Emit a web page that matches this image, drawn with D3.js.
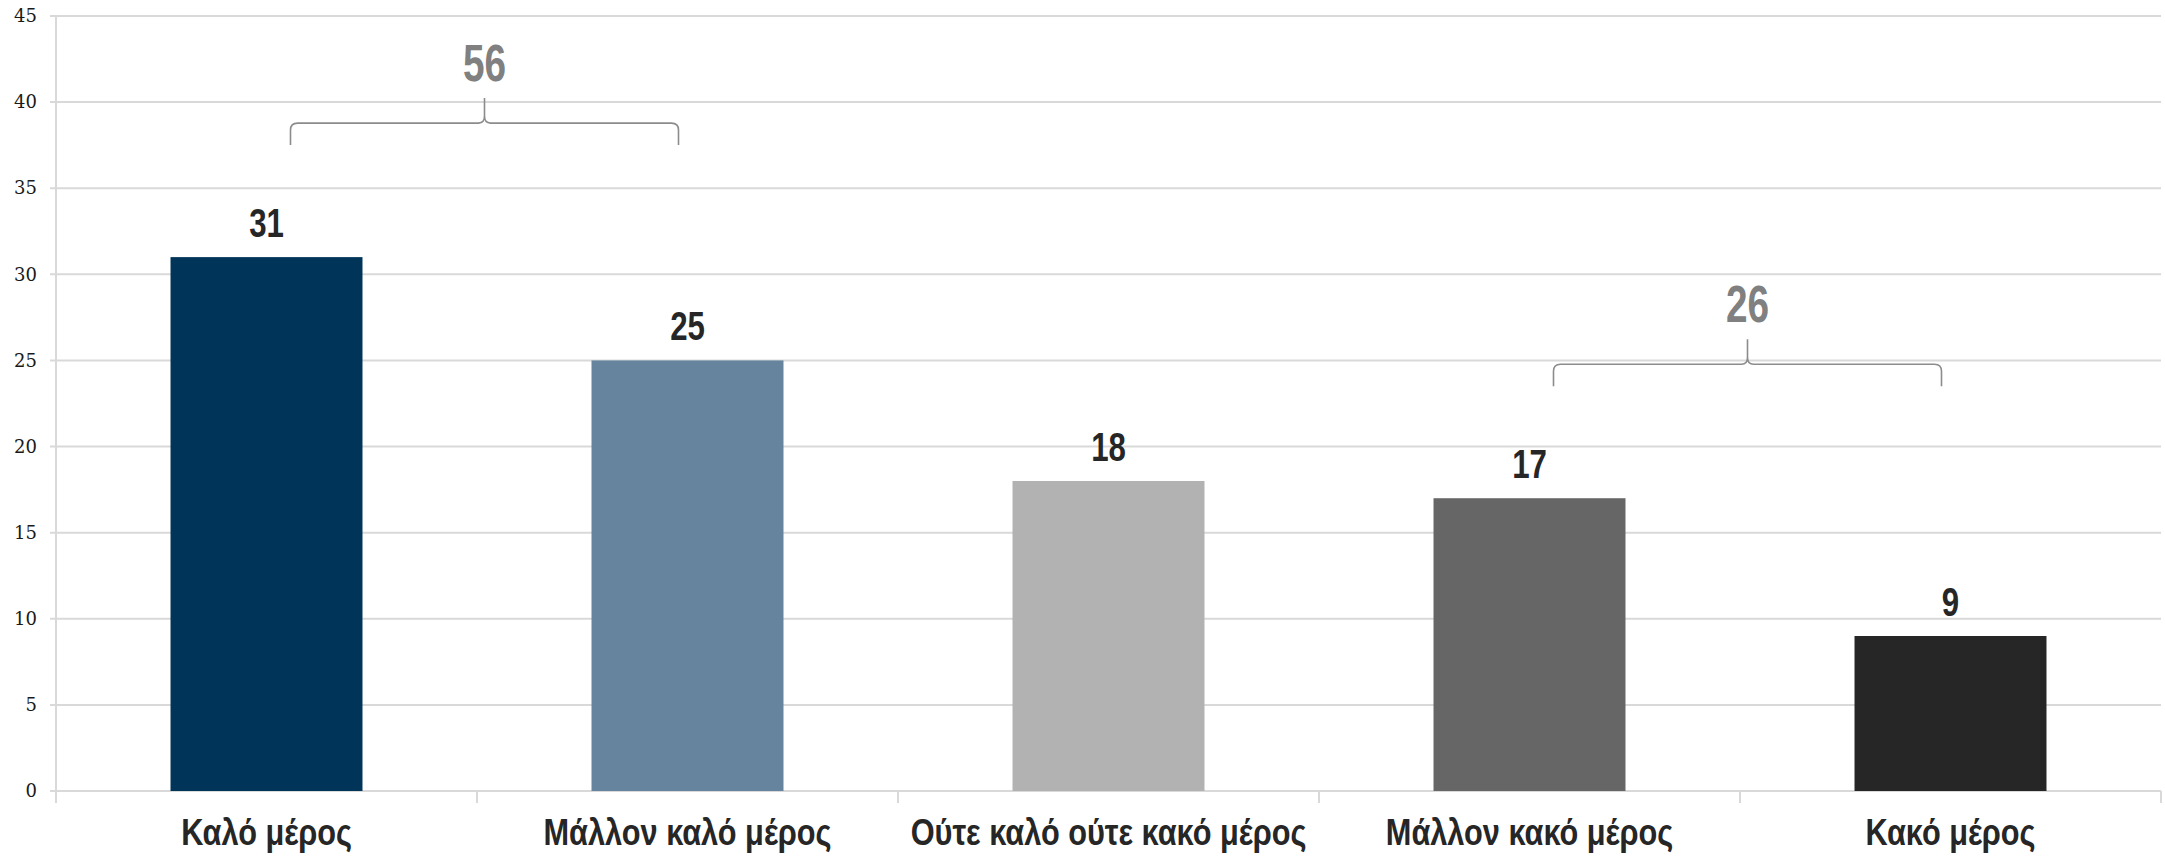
<!DOCTYPE html>
<html>
<head>
<meta charset="utf-8">
<script src="https://cdn.jsdelivr.net/npm/d3@7"></script>
<style>
  html, body { margin: 0; padding: 0; background: #ffffff; }
  svg { display: block; }
</style>
</head>
<body>
<div id="chart"></div>
<script>
// ---- data ----
const categories = ["Καλό μέρος", "Μάλλον καλό μέρος", "Ούτε καλό ούτε κακό μέρος", "Μάλλον κακό μέρος", "Κακό μέρος"];
const values = [31, 25, 18, 17, 9];
const yTicks = [0, 5, 10, 15, 20, 25, 30, 35, 40, 45];
const groupLabels = ["56", "26"];
const groupFirst = ["Καλό μέρος", "Μάλλον κακό μέρος"];
const groupLast = ["Μάλλον καλό μέρος", "Κακό μέρος"];

// ---- styles ----
const barColors = ["#003559", "#66849d", "#b2b2b2", "#666666", "#262626"];

const W = 2165, H = 860;
const margin = { left: 56, right: 4, top: 16, bottom: 69 };

const svg = d3.select("#chart").append("svg").attr("width", W).attr("height", H);

const x = d3.scaleBand().domain(categories).range([margin.left, W - margin.right]).padding(0);
const p = 0.544;
const xb = d3.scaleBand().domain(categories).range([margin.left, W - margin.right])
  .paddingInner(p).paddingOuter(p / 2);
const y = d3.scaleLinear().domain([0, 45]).range([H - margin.bottom, margin.top]);

// gridlines
svg.append("g").selectAll("line").data(yTicks).join("line")
  .attr("x1", margin.left - 6).attr("x2", W - margin.right)
  .attr("y1", d => y(d)).attr("y2", d => y(d))
  .attr("stroke", "#d9d9d9").attr("stroke-width", 2);

// y axis
const yAxis = d3.axisLeft(y).tickValues(yTicks).tickSize(0).tickPadding(19);
const gy = svg.append("g").attr("transform", `translate(${margin.left},0)`).call(yAxis);
gy.select(".domain").remove();
gy.selectAll("text").attr("font-family", "'DejaVu Serif', serif").attr("font-size", 18).attr("fill", "#1a1a1a");
svg.append("line").attr("x1", margin.left).attr("x2", margin.left)
  .attr("y1", y(45)).attr("y2", y(0) + 12).attr("stroke", "#d9d9d9").attr("stroke-width", 2);

// x axis ticks at category boundaries
const bounds = categories.map(c => x(c)).concat([x(categories[categories.length - 1]) + x.bandwidth()]);
svg.append("g").selectAll("line").data(bounds.slice(1)).join("line")
  .attr("x1", d => d).attr("x2", d => d).attr("y1", y(0)).attr("y2", y(0) + 12)
  .attr("stroke", "#d9d9d9").attr("stroke-width", 2);

// bars
svg.append("g").selectAll("rect").data(values).join("rect")
  .attr("x", (d, i) => xb(categories[i]))
  .attr("width", xb.bandwidth())
  .attr("y", d => y(d))
  .attr("height", d => y(0) - y(d))
  .attr("fill", (d, i) => barColors[i]);

// value labels
svg.append("g").selectAll("text").data(values).join("text")
  .attr("transform", (d, i) => `translate(${x(categories[i]) + x.bandwidth() / 2},${y(d) - 20}) scale(0.78,1)`)
  .attr("text-anchor", "middle")
  .attr("font-family", "'Liberation Sans', Arial, sans-serif")
  .attr("font-weight", "bold").attr("font-size", 40).attr("fill", "#262626")
  .text(d => d);

// category labels
svg.append("g").selectAll("text").data(categories).join("text")
  .attr("transform", d => `translate(${x(d) + x.bandwidth() / 2},${H - 15}) scale(0.83,1)`)
  .attr("text-anchor", "middle")
  .attr("font-family", "'Liberation Sans', Arial, sans-serif")
  .attr("font-weight", "bold").attr("font-size", 37).attr("fill", "#262626")
  .text(d => d);

// brackets
const gB = svg.append("g");
groupLabels.forEach((lab, k) => {
  const a = groupFirst[k], b = groupLast[k];
  const ia = categories.indexOf(a), ib = categories.indexOf(b);
  const top = Math.max(...values.slice(ia, ib + 1));
  const xl = x(a) + x.bandwidth() / 2 + 24;
  const xr = x(b) + x.bandwidth() / 2 - 9;
  const xc = (xl + xr) / 2;
  const yh = y(top) - 134;
  const path = d3.path();
  path.moveTo(xl, yh + 22);
  path.lineTo(xl, yh + 7);
  path.quadraticCurveTo(xl, yh, xl + 7, yh);
  path.lineTo(xc - 6, yh);
  path.quadraticCurveTo(xc, yh, xc, yh - 7);
  path.lineTo(xc, yh - 25);
  path.moveTo(xc, yh - 7);
  path.quadraticCurveTo(xc, yh, xc + 6, yh);
  path.lineTo(xr - 7, yh);
  path.quadraticCurveTo(xr, yh, xr, yh + 7);
  path.lineTo(xr, yh + 22);
  gB.append("path").attr("d", path.toString()).attr("fill", "none")
    .attr("stroke", "#8c8c8c").attr("stroke-width", 1.6);
  gB.append("text")
    .attr("transform", `translate(${xc},${yh - 42}) scale(0.76,1)`)
    .attr("text-anchor", "middle")
    .attr("font-family", "'Liberation Sans', Arial, sans-serif")
    .attr("font-weight", "bold").attr("font-size", 51).attr("fill", "#808080")
    .text(lab);
});
</script>
</body>
</html>
